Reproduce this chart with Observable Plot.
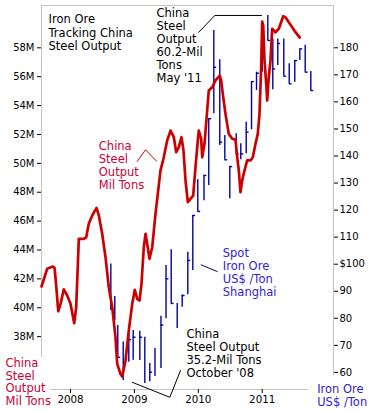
<!DOCTYPE html>
<html><head><meta charset="utf-8">
<script src="https://cdn.jsdelivr.net/npm/d3@7"></script>
<script src="https://cdn.jsdelivr.net/npm/@observablehq/plot@0.6"></script>
<style>html,body{margin:0;padding:0;background:#fff;overflow:hidden} #chart svg{display:block}</style>
</head><body><div id="chart"></div>
<script>
// China steel output, million tons (left axis); time as fractional year
const steelT = [2007.546,2007.635,2007.723,2007.750,2007.776,2007.808,2007.844,2007.895,2007.948,2008.000,2008.058,2008.089,2008.130,2008.208,2008.246,2008.286,2008.340,2008.407,2008.443,2008.496,2008.548,2008.599,2008.653,2008.704,2008.731,2008.782,2008.809,2008.861,2008.912,2008.966,2009.006,2009.044,2009.080,2009.111,2009.147,2009.174,2009.200,2009.236,2009.279,2009.330,2009.408,2009.460,2009.513,2009.565,2009.617,2009.654,2009.695,2009.737,2009.768,2009.800,2009.836,2009.878,2009.920,2009.956,2009.992,2010.008,2010.045,2010.061,2010.097,2010.139,2010.164,2010.218,2010.269,2010.336,2010.358,2010.390,2010.426,2010.477,2010.531,2010.582,2010.609,2010.634,2010.660,2010.687,2010.723,2010.765,2010.817,2010.853,2010.895,2010.931,2010.958,2010.984,2011.000,2011.016,2011.036,2011.067,2011.078,2011.103,2011.130,2011.156,2011.208,2011.260,2011.329,2011.365,2011.416,2011.470,2011.521,2011.588];
const steelV = [41.47,42.70,42.85,42.76,41.54,39.76,40.27,41.28,40.85,40.27,38.93,40.04,44.77,44.77,44.88,45.81,46.39,46.92,46.39,45.12,43.50,41.42,40.04,37.96,36.12,35.42,35.24,36.35,38.42,40.27,41.24,40.62,40.50,41.66,44.19,45.12,44.43,43.39,44.19,46.50,49.50,50.42,51.58,52.27,51.81,50.77,51.12,51.81,50.89,48.81,47.31,47.54,47.77,49.73,51.58,52.27,51.70,50.42,51.35,53.66,55.04,55.27,55.74,56.08,55.74,54.58,53.41,52.04,51.70,51.63,50.42,49.50,48.00,48.81,49.50,50.20,50.20,50.42,51.35,52.04,53.43,56.66,59.82,59.54,57.12,55.27,54.35,55.96,57.12,59.32,59.08,59.32,60.19,60.12,59.77,59.43,59.08,58.71];

// Spot iron ore, US$/ton (right axis): high-low bars with close tick
const oreT = [2008.631,2008.693,2008.740,2008.825,2008.912,2008.981,2009.085,2009.163,2009.241,2009.322,2009.416,2009.495,2009.576,2009.670,2009.748,2009.836,2009.914,2009.992,2010.089,2010.164,2010.243,2010.336,2010.415,2010.493,2010.593,2010.665,2010.750,2010.833,2010.911,2011.000,2011.088,2011.166,2011.244,2011.338,2011.423,2011.510,2011.589,2011.673,2011.761];
const oreHigh = [100.1,88.1,77.3,71.2,74.3,75.5,75.2,73.0,63.3,68.8,80.8,99.5,105.3,85.5,88.6,104.4,118.0,131.2,132.8,153.8,186.4,175.6,147.6,136.1,148.2,144.5,152.5,167.5,171.0,185.8,191.9,183.3,183.3,183.3,174.1,175.3,179.6,180.9,171.2];
const oreLow = [82.9,79.2,65.6,57.0,63.8,64.5,64.4,55.9,56.5,58.5,61.4,79.8,85.5,76.2,84.1,88.7,97.7,119.5,123.5,129.1,155.6,143.9,138.6,124.2,140.8,138.6,140.8,149.7,164.2,171.0,182.7,164.5,173.5,169.5,166.7,167.3,175.3,171.0,164.2];
const oreClose = [null,null,65.6,null,72.1,73.0,73.0,null,60.1,null,77.5,94.6,85.5,null,88.4,101.4,118.0,119.5,132.8,153.8,172.8,145.1,138.6,136.1,140.8,140.8,148.8,167.5,170.6,185.8,182.7,172.2,181.6,169.5,166.7,175.3,179.6,171.0,164.2];

const steelTicks = [38,40,42,44,46,48,50,52,54,56,58];
const oreTicks = [60,70,80,90,100,110,120,130,140,150,160,170,180];
const yearTicks = [2008,2009,2010,2011];

const xDomain = [2007.546, 2012.116];
const steelDomain = [34.34, 60.93];
const oreDomain = [53.68, 195.64];
const toSteel = d3.scaleLinear().domain(oreDomain).range(steelDomain);

const steel = steelT.map((t, i) => ({t, v: steelV[i]}));
const ore = oreT.map((t, i) => ({t, hi: toSteel(oreHigh[i]), lo: toSteel(oreLow[i]), c: oreClose[i] == null ? null : toSteel(oreClose[i])}));
const oreC = ore.filter(d => d.c != null);

// annotations
const notes = [
  {t: 2007.656, v: 60.40, text: "Iron Ore\nTracking China\nSteel Output", color: "#000", lh: 1.19, fs: 11.5},
  {t: 2009.346, v: 60.74, text: "China\nSteel\nOutput\n60.2-Mil\nTons\nMay '11", color: "#000", lh: 1.12, fs: 11.5},
  {t: 2008.443, v: 51.55, text: "China\nSteel\nOutput\nMil Tons", color: "#cc0033", lh: 1.13, fs: 11.5},
  {t: 2010.383, v: 44.17, text: "Spot\nIron Ore\nUS$ /Ton\nShanghai", color: "#3322cc", lh: 1.14, fs: 11.5},
  {t: 2009.815, v: 38.53, text: "China\nSteel Output\n35.2-Mil Tons\nOctober '08", color: "#000", lh: 1.12, fs: 11.5},
  {t: 2006.983, v: 36.55, text: "China\nSteel\nOutput\nMil Tons", color: "#cc0033", lh: 1.12, fs: 11.5},
  {t: 2011.861, v: 34.77, text: "Iron Ore\nUS$ /Ton", color: "#3322cc", lh: 1.15, fs: 11.5}
];
const leaders = [
  {pts: [[2010.008,59.08],[2010.258,60.24],[2010.989,60.24]], color: "#000"},
  {pts: [[2009.044,50.13],[2009.174,50.94],[2009.346,50.15]], color: "#cc0000"},
  {pts: [[2010.045,42.97],[2010.296,42.51]], color: "#000080"},
  {pts: [[2008.966,34.84],[2009.554,33.80],[2009.721,35.65]], color: "#000"}
];
const leaderData = leaders.flatMap((l, k) => l.pts.map(p => ({k, t: p[0], v: p[1], color: l.color})));

const frameGray = "#c4c4c4";

const chart = Plot.plot({
  width: 373, height: 413,
  marginLeft: 41, marginRight: 40, marginTop: 5, marginBottom: 24,
  style: {fontFamily: "DejaVu Sans", background: "#fff", color: "#000"},
  x: {domain: xDomain, axis: null, label: null},
  y: {domain: steelDomain, axis: null, label: null},
  marks: [
    // frame lines
    Plot.ruleY([steelDomain[1]], {x1: xDomain[0], x2: xDomain[1], stroke: frameGray}),
    Plot.ruleX([xDomain[0]], {y1: 36.55, y2: steelDomain[1], stroke: frameGray}),
    Plot.ruleX([xDomain[1]], {y1: 35.31, y2: steelDomain[1], stroke: frameGray}),
    Plot.ruleY([steelDomain[0]], {x1: 2007.687, x2: 2011.725, stroke: frameGray}),
    // axes
    Plot.axisY(steelTicks, {anchor: "left", label: null, tickSize: 4, tickPadding: 3, fontSize: 10, tickFormat: d => d + "M"}),
    Plot.axisY(oreTicks.map(v => toSteel(v)), {anchor: "right", label: null, tickSize: 4, tickPadding: 2, fontSize: 10,
      tickFormat: d => { const v = Math.round(toSteel.invert(d)); return v === 100 ? "$100" : String(v); }}),
    Plot.axisX(yearTicks, {anchor: "bottom", label: null, tickSize: 4, tickPadding: 2, fontSize: 10.3, tickFormat: d => String(d)}),
    // iron ore bars
    Plot.ruleX(ore, {x: "t", y1: "lo", y2: "hi", stroke: "#0000a8", strokeWidth: 1.4}),
    Plot.ruleY(oreC, {y: "c", x1: "t", x2: d => d.t + 0.045, stroke: "#0000a8", strokeWidth: 1.4}),
    // steel line
    Plot.line(steel, {x: "t", y: "v", stroke: "#cc0000", strokeWidth: 2.7, strokeLinejoin: "round"}),
    // leaders
    Plot.line(leaderData, {x: "t", y: "v", z: "k", stroke: "color", strokeWidth: 1}),
    // annotation texts
    ...notes.map(n => Plot.text([n], {x: "t", y: "v", text: "text", fill: n.color, textAnchor: "start", lineAnchor: "top", fontSize: n.fs, lineHeight: n.lh}))
  ]
});
document.getElementById("chart").append(chart);
</script>
</body></html>
